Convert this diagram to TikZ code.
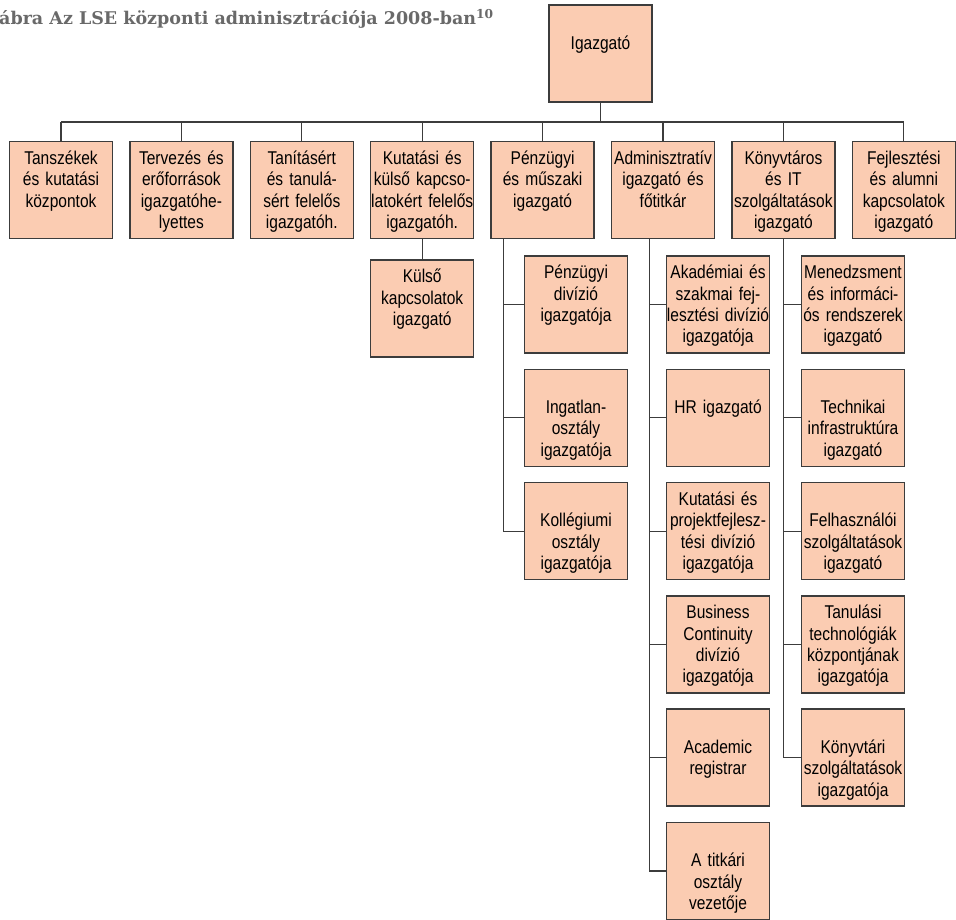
\documentclass[tikz,border=0pt]{standalone}
\usepackage{fontspec}
\usepackage{tikz}
\usetikzlibrary{positioning}
\newfontfamily\boxfont{Liberation Sans}[FakeStretch=0.84]
\newfontfamily\titlefont{DejaVu Serif}
\definecolor{boxpeach}{RGB}{251,204,178}
\definecolor{boxline}{RGB}{60,60,60}
\definecolor{titlegray}{RGB}{105,105,105}

\begin{document}
\begin{tikzpicture}[
  x=1pt, y=-1pt,
  node distance=14.8pt and 15.9pt,
  every node/.style={font=\boxfont\fontsize{18.5}{21.3}\selectfont},
  box/.style={
    draw=boxline, fill=boxpeach, line width=1.5pt,
    align=center, text width=113pt,
    inner xsep=-5pt, inner ysep=0pt,
    text height=23pt, text depth=74pt
  },
  lowbox/.style={box, text height=44.3pt, text depth=52.7pt},
  link/.style={draw=boxline, line width=1.2pt},
  caption/.style={
    font=\titlefont\bfseries\fontsize{17.5}{20}\selectfont,
    text=titlegray, anchor=base west, inner sep=0pt
  }
]

  \useasboundingbox (0,0) rectangle (956,920);

  % Cím
  \node[caption] (title) at (-1,25) {ábra Az LSE központi adminisztrációja 2008-ban\textsuperscript{10}};

  % Igazgató
  \node[lowbox] (boss) at (600.5,53.5) {Igazgató};

  % Első szint
  \node[box] (dept) at (61,190) {Tanszékek\\és kutatási\\központok};
  \node[box, right=of dept] (plan) {Tervezés és\\erőforrások\\igazgatóhe-\\lyettes};
  \node[box, right=of plan] (teach) {Tanításért\\és tanulá-\\sért felelős\\igazgatóh.};
  \node[box, right=of teach] (research) {Kutatási és\\külső kapcso-\\latokért felelős\\igazgatóh.};
  \node[box, right=of research] (finance) {Pénzügyi\\és műszaki\\igazgató};
  \node[box, right=of finance] (admin) {Adminisztratív\\igazgató és\\főtitkár};
  \node[box, right=of admin] (library) {Könyvtáros\\és IT\\szolgáltatások\\igazgató};
  \node[box, right=of library] (alumni) {Fejlesztési\\és alumni\\kapcsolatok\\igazgató};

  % Kutatási ág
  \node[box, below=20pt of research] (extrel) {Külső\\kapcsolatok\\igazgató};

  % Pénzügyi ág
  \node[box] (findiv) at (576,304.5) {Pénzügyi\\divízió\\igazgatója};
  \node[lowbox, below=of findiv] (estate) {Ingatlan-\\osztály\\igazgatója};
  \node[lowbox, below=of estate] (halls) {Kollégiumi\\osztály\\igazgatója};

  % Adminisztratív ág
  \node[box] (acad) at (718,304.5) {Akadémiai és\\szakmai fej-\\lesztési divízió\\igazgatója};
  \node[lowbox, below=of acad] (hr) {HR igazgató};
  \node[box, below=of hr] (projdev) {Kutatási és\\projektfejlesz-\\tési divízió\\igazgatója};
  \node[box, below=of projdev] (contin) {Business\\Continuity\\divízió\\igazgatója};
  \node[lowbox, below=of contin] (registrar) {Academic\\registrar};
  \node[lowbox, below=of registrar] (secret) {A titkári\\osztály\\vezetője};

  % Könyvtári ág
  \node[box] (mis) at (853,304.5) {Menedzsment\\és informáci-\\ós rendszerek\\igazgató};
  \node[lowbox, below=of mis] (infra) {Technikai\\infrastruktúra\\igazgató};
  \node[lowbox, below=of infra] (users) {Felhasználói\\szolgáltatások\\igazgató};
  \node[box, below=of users] (learntech) {Tanulási\\technológiák\\központjának\\igazgatója};
  \node[lowbox, below=of learntech] (libserv) {Könyvtári\\szolgáltatások\\igazgatója};

  % Gyűjtővonal a felső szinten
  \coordinate (bar) at (0,122);
  \draw[link] (boss.south) -- (boss.south |- bar);
  \draw[link] (bar -| dept.north) -- (bar -| alumni.north);
  \draw[link] (bar -| dept.north) -- (dept.north);
  \draw[link] (bar -| plan.north) -- (plan.north);
  \draw[link] (bar -| teach.north) -- (teach.north);
  \draw[link] (bar -| research.north) -- (research.north);
  \draw[link] (bar -| finance.north) -- (finance.north);
  \draw[link] (bar -| admin.north) -- (admin.north);
  \draw[link] (bar -| library.north) -- (library.north);
  \draw[link] (bar -| alumni.north) -- (alumni.north);

  % Alsó szintek
  \draw[link] (research.south) -- (extrel.north);

  \draw[link] ([xshift=13pt]finance.south west) |- (findiv.west);
  \draw[link] ([xshift=13pt]finance.south west) |- (estate.west);
  \draw[link] ([xshift=13pt]finance.south west) |- (halls.west);

  \draw[link] ([xshift=38.5pt]admin.south west) |- (acad.west);
  \draw[link] ([xshift=38.5pt]admin.south west) |- (hr.west);
  \draw[link] ([xshift=38.5pt]admin.south west) |- (projdev.west);
  \draw[link] ([xshift=38.5pt]admin.south west) |- (contin.west);
  \draw[link] ([xshift=38.5pt]admin.south west) |- (registrar.west);
  \draw[link] ([xshift=38.5pt]admin.south west) |- (secret.west);

  \draw[link] (library.south) |- (mis.west);
  \draw[link] (library.south) |- (infra.west);
  \draw[link] (library.south) |- (users.west);
  \draw[link] (library.south) |- (learntech.west);
  \draw[link] (library.south) |- (libserv.west);

\end{tikzpicture}
\end{document}
